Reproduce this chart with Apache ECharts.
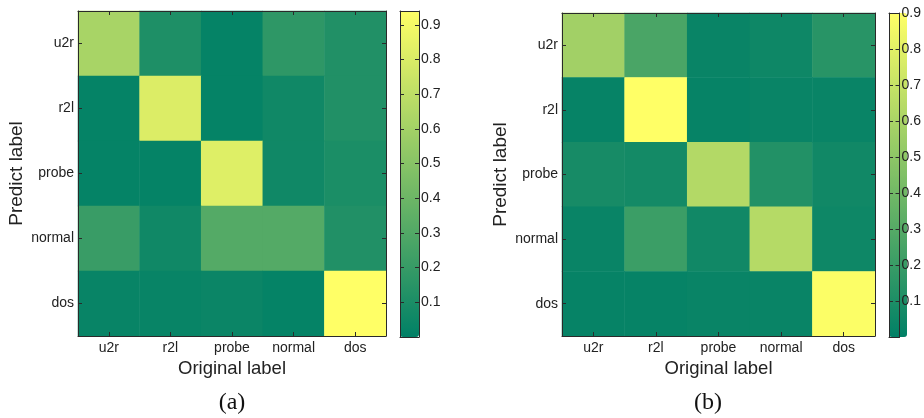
<!DOCTYPE html>
<html><head><meta charset="utf-8">
<script src="https://cdn.jsdelivr.net/npm/echarts@6/dist/echarts.min.js"></script>
<style>html,body{margin:0;padding:0;background:#fff}#c{width:924px;height:418px}</style>
</head><body><div id="c"></div>
<script>
// Categories (original label on x, predicted label on y, top to bottom)
const origLabels = ['u2r', 'r2l', 'probe', 'normal', 'dos'];
const predLabels = ['u2r', 'r2l', 'probe', 'normal', 'dos'];
// (a) rows = predicted label (top to bottom), cols = original label
const matA = [
  [0.62, 0.11, 0.02, 0.17, 0.12],
  [0.02, 0.81, 0.02, 0.06, 0.12],
  [0.02, 0.02, 0.82, 0.06, 0.10],
  [0.21, 0.06, 0.31, 0.31, 0.12],
  [0.03, 0.03, 0.04, 0.02, 0.94]
];
// (b)
const matB = [
  [0.57, 0.26, 0.03, 0.05, 0.14],
  [0.02, 0.90, 0.02, 0.03, 0.03],
  [0.08, 0.07, 0.63, 0.12, 0.06],
  [0.03, 0.21, 0.06, 0.64, 0.05],
  [0.02, 0.02, 0.03, 0.03, 0.89]
];
const rangeA = [0, 0.94];
const rangeB = [0, 0.9];
const colorbarTicks = [0.1, 0.2, 0.3, 0.4, 0.5, 0.6, 0.7, 0.8, 0.9];
const captions = ['(a)', '(b)'];
const xTitle = 'Original label';
const yTitle = 'Predict label';

const summer = ['#008066', '#ffff66'];
const FONT = 'Liberation Sans';
const LINE = '#2a2a2a';

function toData(m) {
  const d = [];
  m.forEach((row, r) => row.forEach((v, c) => d.push([c, r, v])));
  return d;
}
const tickFmt = v => {
  const t = colorbarTicks.find(x => Math.abs(x - v) < 1e-6);
  return t !== undefined ? t.toFixed(1) : '';
};

function catX(grid, pos, showLabel, name) {
  return {
    type: 'category', gridIndex: grid, position: pos, data: origLabels, z: 10,
    axisLine: { show: true, onZero: false, lineStyle: { color: LINE, width: 1 } },
    axisTick: { show: true, inside: true, alignWithLabel: true, length: 4, lineStyle: { color: LINE } },
    axisLabel: { show: showLabel, fontFamily: FONT, fontSize: 14, color: '#222', margin: 5 },
    splitLine: { show: false },
    name: name || '', nameLocation: 'middle', nameGap: 21,
    nameTextStyle: { fontFamily: FONT, fontSize: 18.5, color: '#222' }
  };
}
function catY(grid, pos, showLabel, name) {
  return {
    type: 'category', gridIndex: grid, position: pos, data: predLabels, inverse: true, z: 10,
    axisLine: { show: true, onZero: false, lineStyle: { color: LINE, width: 1 } },
    axisTick: { show: true, inside: true, alignWithLabel: true, length: 4, lineStyle: { color: LINE } },
    axisLabel: { show: showLabel, fontFamily: FONT, fontSize: 14, color: '#222', margin: 4 },
    splitLine: { show: false },
    name: name || '', nameLocation: 'middle', nameGap: 52, nameRotate: 90,
    nameTextStyle: { fontFamily: FONT, fontSize: 19, color: '#222' }
  };
}
function cbX(grid, pos) {
  return {
    type: 'value', gridIndex: grid, position: pos, min: 0, max: 1, z: 10,
    axisLine: { show: true, onZero: false, lineStyle: { color: LINE, width: 1 } },
    axisTick: { show: false }, axisLabel: { show: false }, splitLine: { show: false }
  };
}
function cbY(grid, pos, range, showLabel) {
  return {
    type: 'value', gridIndex: grid, position: pos, min: range[0], max: range[1], interval: 0.1, z: 10,
    axisLine: { show: true, onZero: false, lineStyle: { color: LINE, width: 1 } },
    axisTick: { show: true, inside: true, length: 4, lineStyle: { color: LINE } },
    axisLabel: { show: showLabel, fontFamily: FONT, fontSize: 14, color: '#222', margin: 2,
      formatter: tickFmt, showMinLabel: false, showMaxLabel: true },
    splitLine: { show: false }
  };
}

const option = {
  animation: false,
  backgroundColor: '#fff',
  grid: [
    { left: 78, top: 11, width: 308, height: 325 },
    { left: 400, top: 11, width: 19, height: 326 },
    { left: 562, top: 13, width: 313, height: 323 },
    { left: 889, top: 13, width: 18, height: 324 }
  ],
  xAxis: [
    catX(0, 'bottom', true, xTitle), catX(0, 'top', false),
    cbX(1, 'bottom'), cbX(1, 'top'),
    catX(2, 'bottom', true, xTitle), catX(2, 'top', false),
    cbX(3, 'bottom'), cbX(3, 'top')
  ],
  yAxis: [
    catY(0, 'left', true, yTitle), catY(0, 'right', false),
    cbY(1, 'left', rangeA, false), cbY(1, 'right', rangeA, true),
    catY(2, 'left', true, yTitle), catY(2, 'right', false),
    cbY(3, 'left', rangeB, false), cbY(3, 'right', rangeB, true)
  ],
  visualMap: [
    { type: 'continuous', min: rangeA[0], max: rangeA[1], seriesIndex: 0, inRange: { color: summer },
      left: 400, top: 11, itemWidth: 19, itemHeight: 326, padding: 0, calculable: false, hoverLink: false, text: null },
    { type: 'continuous', min: rangeB[0], max: rangeB[1], seriesIndex: 1, inRange: { color: summer },
      left: 889, top: 13, itemWidth: 18, itemHeight: 324, padding: 0, calculable: false, hoverLink: false, text: null }
  ],
  series: [
    { type: 'heatmap', xAxisIndex: 0, yAxisIndex: 0, data: toData(matA), emphasis: { disabled: true },
      itemStyle: { borderWidth: 0 } },
    { type: 'heatmap', xAxisIndex: 4, yAxisIndex: 4, data: toData(matB), emphasis: { disabled: true },
      itemStyle: { borderWidth: 0 } }
  ],
  graphic: [
    { type: 'text', x: 232, y: 403, style: { text: captions[0], font: '24px "Liberation Serif"', fill: '#111', textAlign: 'center', textVerticalAlign: 'middle' } },
    { type: 'text', x: 708, y: 403, style: { text: captions[1], font: '24px "Liberation Serif"', fill: '#111', textAlign: 'center', textVerticalAlign: 'middle' } }
  ]
};
const chart = echarts.init(document.getElementById('c'), null, { renderer: 'canvas' });
chart.setOption(option);
</script>
</body></html>
